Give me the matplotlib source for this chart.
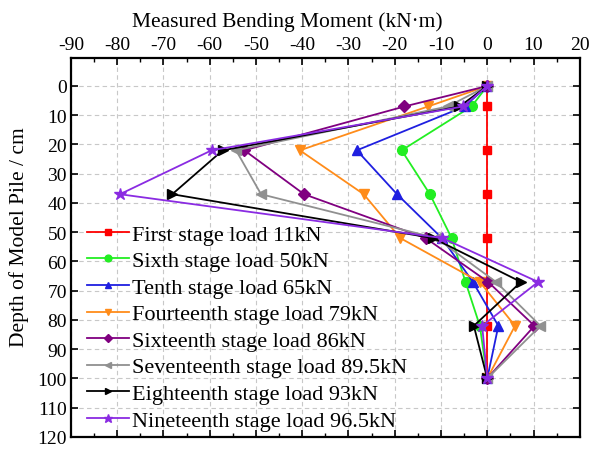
import matplotlib
matplotlib.use("Agg")
import matplotlib.pyplot as plt
from matplotlib.ticker import MultipleLocator

plt.rcParams['font.family'] = ['Liberation Serif', 'DejaVu Serif']
plt.rcParams['axes.unicode_minus'] = False

# Depth of each measuring section along the pile (cm)
depth = [0, 7, 22, 37, 52, 67, 82, 100]

# Measured bending moment at each section (kN·m), one list per load stage
stage_labels = [
    "First stage load 11kN",
    "Sixth stage load 50kN",
    "Tenth stage load 65kN",
    "Fourteenth stage load 79kN",
    "Sixteenth stage load 86kN",
    "Seventeenth stage load 89.5kN",
    "Eighteenth stage load 93kN",
    "Nineteenth stage load 96.5kN",
]
m_first = [0, 0, 0, 0, 0, 0, 0, 0]
m_sixth = [0, -3.4, -18.5, -12.4, -7.7, -4.7, -1.6, 0]
m_tenth = [0, -4.9, -28.2, -19.5, -9.8, -3.1, 2.4, 0]
m_fourteenth = [0, -12.8, -40.5, -26.7, -18.8, -1.6, 6.0, 0]
m_sixteenth = [0, -17.9, -52.5, -39.6, -13.3, 0.2, 10.2, 0]
m_seventeenth = [0, -8.5, -54.3, -48.9, -11.0, 1.9, 11.5, 0]
m_eighteenth = [0, -6.0, -57.2, -68.1, -11.7, 7.3, -2.9, 0]
m_nineteenth = [0, -5.2, -59.6, -79.4, -9.7, 11.0, -1.1, 0]

x_ticks = list(range(-90, 21, 10))
y_ticks = list(range(0, 121, 10))

series = [m_first, m_sixth, m_tenth, m_fourteenth,
          m_sixteenth, m_seventeenth, m_eighteenth, m_nineteenth]
colors = ['#ff0000', '#22ee22', '#1f1fe0', '#ff8c1a',
          '#800080', '#909090', '#000000', '#8a2be2']
markers = ['s', 'o', '^', 'v', 'D', '<', '>', '*']
msizes = [6, 7, 7, 7, 6, 7, 7, 9]

fig = plt.figure(figsize=(5.91, 4.52), dpi=100)
ax = fig.add_axes([0.120, 0.031, 0.861, 0.838])

for vals, lab, c, mk, ms in zip(series, stage_labels, colors, markers, msizes):
    ax.plot(vals, depth, color=c, marker=mk, markersize=ms, linewidth=1.3,
            label=lab)

ax.set_xlim(-90, 20)
ax.set_ylim(120, -9.5)
ax.set_xticks(x_ticks)
ax.set_yticks(y_ticks)
ax.xaxis.set_minor_locator(MultipleLocator(5))

ax.xaxis.tick_top()
ax.xaxis.set_label_position('top')
ax.tick_params(which='both', direction='in', top=True, bottom=True,
               left=True, right=True, labelsize=14)
ax.tick_params(which='major', length=5, width=1.2)
ax.tick_params(which='minor', length=3, width=1.0)
ax.tick_params(axis='x', pad=4)
ax.tick_params(axis='y', pad=3)

for sp in ax.spines.values():
    sp.set_linewidth(1.6)

ax.grid(True, which='major', linestyle=(0, (4, 3)), color='#c8c8c8',
        linewidth=0.8)
ax.set_axisbelow(True)

ax.set_xlabel("Measured Bending Moment (kN·m)", fontsize=15.5)
ax.xaxis.set_label_coords(0.425, 1.085)
ax.set_ylabel("Depth of Model Pile / cm", fontsize=15.5)
ax.yaxis.set_label_coords(-0.082, 0.53)

leg = ax.legend(loc='upper left', bbox_to_anchor=(0.031, 0.562),
                frameon=False, fontsize=16, handlelength=1.9,
                handletextpad=0.15, labelspacing=0.27, borderaxespad=0,
                borderpad=0, markerscale=0.7)

fig.savefig("out.png", dpi=100)
